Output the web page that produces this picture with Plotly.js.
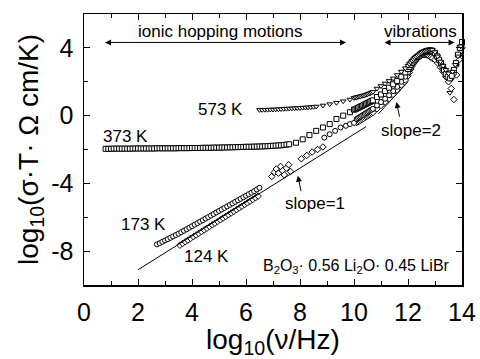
<!DOCTYPE html>
<html><head><meta charset="utf-8">
<script src="https://cdn.plot.ly/plotly-3.0.1.min.js"></script>
<style>html,body{margin:0;padding:0;background:#fff;}#c{width:480px;height:359px;}</style>
</head><body><div id="c"></div>
<script>
// ---- data ----
const x373 = [0.8,0.9,1.0,1.1,1.2,1.3,1.4,1.5,1.6,1.7,1.8,1.9,2.0,2.1,2.2,2.3,2.4,2.5,2.6,2.7,2.8,2.9,3.0,3.1,3.2,3.3,3.4,3.5,3.6,3.7,3.8,3.9,4.0,4.1,4.2,4.3,4.4,4.5,4.6,4.7,4.8,4.9,5.0,5.1,5.2,5.3,5.4,5.5,5.6,5.7,5.8,5.9,6.0,6.1,6.2,6.3,6.4,6.5,6.6,6.7,6.8,6.9,7.0,7.1,7.2,7.3,7.4,7.5,7.6,
  7.85,8.1,8.35,8.6,8.85,9.1,9.35,9.6,9.85,
  10.0,10.05,10.1,10.15,10.2,10.25,10.3,10.35,10.4,10.45,10.5,10.55,10.6,10.65,10.7,
  10.85,11.0,11.15,11.3,11.45,11.6,11.75,11.9,
  12.0,12.05,12.1,12.15,12.2,12.25,12.3,12.35,12.4,12.45,12.5,12.55,12.6,12.65,12.7,12.75,12.8,12.85,12.9,
  13.0,13.08,13.15,13.22,13.28,13.33,13.4,13.47,13.55,13.62,13.7,13.78,13.85,13.92,14.0];
const y373 = [-1.96,-1.96,-1.96,-1.95,-1.95,-1.95,-1.95,-1.95,-1.95,-1.95,-1.95,-1.94,-1.94,
  -1.94,-1.94,-1.94,-1.94,-1.94,-1.94,-1.93,-1.93,-1.93,-1.93,
  -1.93,-1.93,-1.93,-1.93,-1.92,-1.92,-1.92,-1.92,-1.92,-1.91,
  -1.91,-1.91,-1.91,-1.90,-1.90,-1.90,-1.90,-1.89,-1.89,-1.89,
  -1.88,-1.88,-1.88,-1.87,-1.87,-1.86,-1.86,-1.85,-1.85,-1.84,
  -1.84,-1.84,-1.83,-1.83,-1.82,-1.82,-1.81,-1.80,-1.79,-1.78,
  -1.77,-1.76,-1.75,-1.73,-1.71,-1.69,
  -1.6,-1.4,-1.15,-0.9,-0.7,-0.5,-0.2,0.0,0.2,
  0.35,0.38,0.42,0.46,0.5,0.54,0.58,0.62,0.66,0.7,0.74,0.78,0.82,0.86,0.9,
  1.1,1.25,1.45,1.65,1.85,2.05,2.3,2.55,
  2.75,2.88,3.0,3.1,3.2,3.3,3.38,3.46,3.53,3.6,3.66,3.71,3.75,3.79,3.82,3.84,3.85,3.85,3.83,
  3.7,3.5,3.3,3.1,2.9,2.7,2.45,2.3,2.2,2.35,2.7,3.1,3.6,4.0,4.35];

const x573 = [6.5,6.6,6.7,6.8,6.9,7.0,7.1,7.2,7.3,7.4,7.5,7.6,7.7,7.8,7.9,8.0,8.1,8.2,8.3,8.4,8.5,8.6,
  8.85,9.1,9.35,9.6,9.85,
  10.0,10.05,10.1,10.15,10.2,10.25,10.3,10.35,10.4,10.45,10.5,10.55,10.6,10.65,10.7,
  10.85,11.0,11.15,11.3,11.45,11.6,11.75,11.9,
  12.0,12.05,12.1,12.15,12.2,12.25,12.3,12.35,12.4,12.45,12.5,12.55,12.6,12.65,12.7,12.75,12.8,12.85,12.9,
  13.0,13.1,13.2,13.3,13.4,13.5,13.55,13.65,13.75,13.85,13.95];
const y573 = [0.34,0.34,0.35,0.35,0.36,0.36,0.37,0.38,0.39,0.40,0.41,0.42,0.43,0.44,0.45,0.46,0.47,0.48,0.49,0.50,0.52,0.54,
  0.6,0.68,0.76,0.85,0.95,
  1.05,1.07,1.09,1.11,1.13,1.15,1.17,1.19,1.21,1.24,1.27,1.3,1.33,1.36,1.4,
  1.6,1.75,1.9,2.05,2.2,2.4,2.6,2.8,
  2.95,3.05,3.15,3.25,3.33,3.41,3.48,3.55,3.61,3.67,3.72,3.76,3.8,3.83,3.86,3.88,3.89,3.89,3.88,
  3.75,3.5,3.2,2.95,2.7,2.5,1.35,2.6,3.0,3.5,4.1];

const x173 = [2.7,2.8,2.9,3.0,3.1,3.2,3.3,3.4,3.5,3.6,3.7,3.8,3.9,4.0,4.1,4.2,4.3,4.4,4.5,4.6,4.7,4.8,4.9,5.0,5.1,5.2,5.3,5.4,5.5,5.6,5.7,5.8,5.9,6.0,6.1,6.2,6.3,6.4,6.5,
  8.9,9.1,9.3,9.5,9.7,9.85,10.0,
  10.1,10.15,10.2,10.25,10.3,10.35,10.4,10.45,10.5,10.55,10.6,10.65,10.7,
  10.85,11.0,11.15,11.3,11.45,11.6,11.75,11.9,
  12.0,12.05,12.1,12.15,12.2,12.25,12.3,12.35,12.4,12.45,12.5,12.55,12.6,12.65,12.7,12.75,12.8,12.85,12.9,
  13.0,13.1,13.2,13.3,13.4,13.5,13.6,13.7,13.8,13.9,14.0];
const y173 = [-7.60,-7.53,-7.45,-7.37,-7.29,-7.21,-7.13,-7.05,-6.97,-6.88,-6.80,-6.71,-6.62,-6.53,-6.44,-6.35,-6.26,-6.17,-6.08,-5.99,-5.90,-5.81,-5.72,-5.63,-5.54,-5.45,-5.36,-5.27,-5.18,-5.09,-5.00,-4.91,-4.82,-4.73,-4.64,-4.55,-4.46,-4.36,-4.26,
  -1.3,-1.1,-0.9,-0.7,-0.6,-0.5,-0.43,
  -0.2,-0.15,-0.1,-0.05,0.0,0.05,0.1,0.15,0.2,0.25,0.3,0.35,0.4,
  0.6,0.8,1.0,1.2,1.45,1.7,2.0,2.3,
  2.55,2.75,2.92,3.07,3.2,3.32,3.42,3.5,3.57,3.63,3.68,3.72,3.75,3.77,3.78,3.78,3.77,3.75,3.72,
  3.6,3.4,3.15,2.9,2.65,2.4,2.2,2.5,3.0,3.6,4.2];

const x124 = [3.55,3.65,3.75,3.85,3.95,4.05,4.15,4.25,4.35,4.45,4.55,4.65,4.75,4.85,4.95,5.05,5.15,5.25,5.35,5.45,5.55,5.65,5.75,5.85,5.95,6.05,6.15,6.25,6.35,6.45,
  6.95,7.05,7.12,7.2,7.28,7.35,7.42,7.5,7.58,7.65,
  8.05,8.25,8.45,8.65,8.85,
  10.1,10.15,10.2,10.25,10.3,10.35,10.4,10.45,10.5,10.55,10.6,10.65,10.7,
  10.85,11.0,11.15,11.3,11.45,11.6,11.75,11.9,
  12.0,12.05,12.1,12.15,12.2,12.25,12.3,12.35,12.4,12.45,12.5,12.55,12.6,12.65,12.7,12.75,12.8,12.85,12.9,
  13.0,13.1,13.2,13.3,13.4,13.5,13.6,13.7,13.8,13.9,14.0];
const y124 = [-7.65,-7.55,-7.45,-7.35,-7.25,-7.15,-7.05,-6.95,-6.85,-6.75,-6.65,-6.55,-6.45,-6.35,-6.25,-6.15,-6.05,-5.95,-5.85,-5.75,-5.65,-5.55,-5.45,-5.35,-5.25,-5.15,-5.05,-4.95,-4.85,-4.75,
  -3.6,-3.35,-3.15,-3.4,-3.0,-3.25,-3.5,-3.1,-2.9,-3.3,
  -2.55,-2.35,-2.15,-2.0,-1.85,
  -0.4,-0.36,-0.32,-0.27,-0.22,-0.17,-0.12,-0.07,-0.02,0.03,0.08,0.13,0.18,
  0.4,0.6,0.8,1.0,1.25,1.5,1.8,2.1,
  2.35,2.55,2.75,2.92,3.07,3.2,3.3,3.38,3.46,3.52,3.56,3.59,3.6,3.6,3.58,3.55,3.5,3.45,3.38,
  3.3,3.1,2.85,2.6,2.3,2.0,1.6,0.95,2.4,3.3,4.0];

const slope1X = [2.0, 10.45];
const slope1Y = [-9.1, -0.65];
const slope2X = [10.9, 12.0];
const slope2Y = [0.1, 2.0];

const xTicks = [0,2,4,6,8,10,12,14];
const yTicks = [-8,-4,0,4];

// ---- plot ----
const FONT = 'Liberation Sans, Arial, Helvetica, sans-serif';
function mk(x,y,sym){
  return {x:x,y:y,mode:'markers',type:'scatter',hoverinfo:'skip',cliponaxis:false,
    marker:{symbol:sym,size:5,color:'#fff',line:{color:'#000',width:1}}};
}
const traces = [
  mk(x124,y124,'diamond'),
  mk(x173,y173,'circle'),
  mk(x373,y373,'square'),
  mk(x573,y573,'triangle-down'),
  {x:slope1X,y:slope1Y,mode:'lines',line:{color:'#000',width:1},hoverinfo:'skip'},
  {x:slope2X,y:slope2Y,mode:'lines',line:{color:'#000',width:1},hoverinfo:'skip'}
];
const txt = (x,y,t,sz)=>({x:x,y:y,xref:'x',yref:'y',text:t,showarrow:false,font:{family:FONT,size:sz||17,color:'#000'}});
const arr = (x,y,ax,ay,side)=>({x:x,y:y,ax:ax,ay:ay,xref:'x',yref:'y',axref:'x',ayref:'y',text:'',showarrow:true,
  arrowhead:2,startarrowhead:2,arrowsize:1.2,arrowwidth:1,arrowcolor:'#000',arrowside:side||'end'});
const layout = {
  width:480,height:359,
  margin:{l:84,r:18,t:14,b:74},
  paper_bgcolor:'#fff',plot_bgcolor:'#fff',
  showlegend:false,
  font:{family:FONT,color:'#000'},
  xaxis:{range:[0,14],tickvals:xTicks,ticktext:xTicks.map(String),ticks:'inside',ticklen:6,tickwidth:1,tickcolor:'#000',
    minor:{dtick:1,tick0:0,ticks:'inside',ticklen:4,tickcolor:'#000',tickwidth:1},
    showline:true,linecolor:'#000',linewidth:1.5,mirror:'allticks',showgrid:false,zeroline:false,
    tickfont:{family:FONT,size:25,color:'#000'},ticklabelstandoff:4,
    title:{text:'log<sub>10</sub>(ν/Hz)',font:{family:FONT,size:28,color:'#000'},standoff:2}},
  yaxis:{range:[-10,6],tickvals:yTicks,ticktext:yTicks.map(String),ticks:'inside',ticklen:6,tickwidth:1,tickcolor:'#000',
    minor:{dtick:2,tick0:0,ticks:'inside',ticklen:4,tickcolor:'#000',tickwidth:1},
    showline:true,linecolor:'#000',linewidth:1.5,mirror:'allticks',showgrid:false,zeroline:false,
    tickfont:{family:FONT,size:25,color:'#000'},ticklabelstandoff:4,
    title:{text:'log<sub>10</sub>(σ·T· Ω cm/K)',font:{family:FONT,size:28,color:'#000'},standoff:4}},
  annotations:[
    txt(5.03,4.97,'ionic hopping motions'),
    txt(12.45,4.97,'vibrations'),
    txt(5.05,0.38,'573 K'),
    txt(1.55,-1.24,'373 K'),
    txt(2.22,-6.41,'173 K'),
    txt(4.54,-8.34,'124 K'),
    txt(8.54,-5.18,'slope=1'),
    txt(12.1,-0.85,'slope=2'),
    txt(10.11,-8.9,'B<sub>2</sub>O<sub>3</sub>· 0.56 Li<sub>2</sub>O· 0.45 LiBr',16),
    arr(0.78,4.32,9.76,4.32,'end+start'),
    arr(11.13,4.32,13.78,4.32,'end+start'),
    arr(7.92,-3.55,8.05,-4.55),
    arr(11.57,0.8,11.7,-0.15)
  ]
};
Plotly.newPlot('c',traces,layout,{displayModeBar:false,staticPlot:true});
</script></body></html>
